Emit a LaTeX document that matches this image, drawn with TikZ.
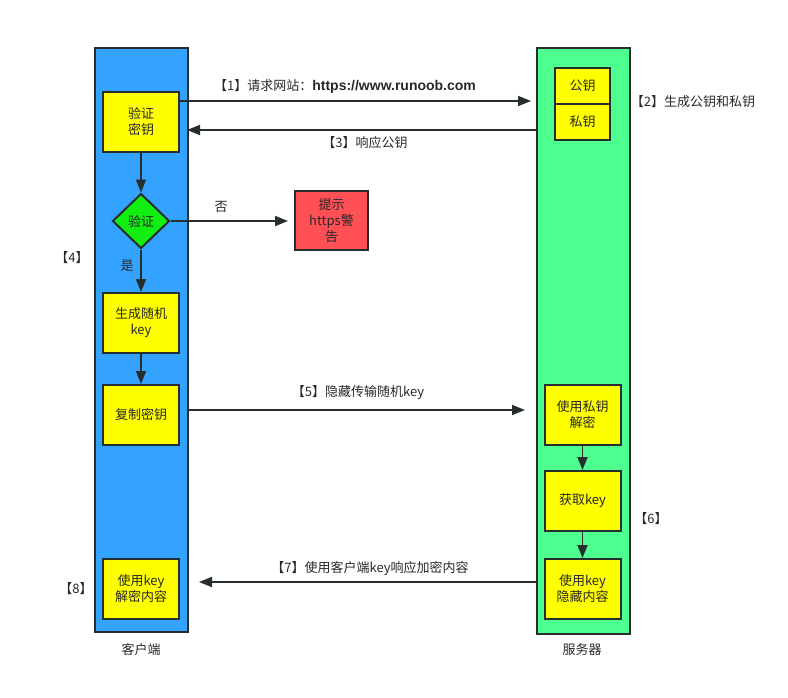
\documentclass[tikz,border=0pt]{standalone}
\usepackage{fontspec}
\setmainfont{Noto Sans CJK SC}
\usetikzlibrary{arrows.meta,shapes.geometric}
\definecolor{colblue}{RGB}{51,163,255}
\definecolor{colgreen}{RGB}{77,255,143}
\definecolor{colyellow}{RGB}{255,255,0}
\definecolor{coldia}{RGB}{17,238,17}
\definecolor{colred}{RGB}{255,80,85}
\definecolor{colline}{RGB}{38,46,46}
\definecolor{coltext}{RGB}{40,40,40}
\tikzset{
  lane/.style={draw=colline,line width=2pt,anchor=north west,inner sep=0pt},
  ybox/.style={draw=colline,line width=2pt,fill=colyellow,minimum width=76pt,minimum height=60pt,inner sep=1pt,align=center,font=\fontsize{13}{16}\selectfont,text=coltext},
  kbox/.style={draw=colline,line width=2pt,fill=colyellow,minimum width=55pt,minimum height=36pt,inner sep=1pt,font=\fontsize{13}{16}\selectfont,text=coltext},
  conn/.style={draw=colline,line width=1.8pt,-{Triangle[length=13pt,width=10pt]}},
  lbl/.style={font=\fontsize{13}{16}\selectfont,text=coltext,inner sep=1pt},
}
\begin{document}
\begin{tikzpicture}[x=1pt,y=-1pt]
\useasboundingbox (0,0) rectangle (788,697);
% lanes
\node[lane,fill=colblue,minimum width=93pt,minimum height=584pt] (client) at (94,47) {};
\node[lane,fill=colgreen,minimum width=93pt,minimum height=586pt] (server) at (536,47) {};
% client nodes
\node[ybox] (verify) at (141,122) {验证\\密钥};
\node[diamond,draw=colline,line width=2pt,fill=coldia,minimum width=57pt,minimum height=55pt,inner sep=0pt,font=\fontsize{13}{16}\selectfont,text=coltext] (dia) at (141,221) {验证};
\node[ybox] (gen) at (141,323) {生成随机\\key};
\node[ybox] (copy) at (141,415) {复制密钥};
\node[ybox] (dec) at (141,589) {使用key\\解密内容};
\node[draw=colline,line width=2pt,fill=colred,minimum width=73pt,minimum height=59pt,inner sep=1pt,align=center,font=\fontsize{13}{16}\selectfont,text=coltext] (warn) at (331.5,220.5) {提示\\https警\\告};
% server nodes
\node[kbox] (pub) at (582.5,85.5) {公钥};
\node[kbox] (priv) at (582.5,122) {私钥};
\node[ybox] (sdec) at (582.5,415) {使用私钥\\解密};
\node[ybox] (getkey) at (582.5,501) {获取key};
\node[ybox] (hide) at (582.5,589) {使用key\\隐藏内容};
% coordinates
\coordinate (a1s) at (179,101);
\coordinate (a1e) at (531,101);
\coordinate (a3s) at (536,130);
\coordinate (a3e) at (187,130);
\coordinate (a5s) at (187,410);
\coordinate (a5e) at (525,410);
\coordinate (a7s) at (536,582);
\coordinate (a7e) at (199,582);
\coordinate (noe) at (288,221);
% connectors
\draw[conn] (a1s) -- (a1e);
\draw[conn] (a3s) -- (a3e);
\draw[conn] (verify.south) -- (dia.north);
\draw[conn] (dia.east) -- (noe);
\draw[conn] (dia.south) -- (gen.north);
\draw[conn] (gen.south) -- (copy.north);
\draw[conn] (a5s) -- (a5e);
\draw[conn] (sdec.south) -- (getkey.north);
\draw[conn] (getkey.south) -- (hide.north);
\draw[conn] (a7s) -- (a7e);
% labels
\node[lbl] (l1) at (345,86) {【1】请求网站：{\fontspec{Liberation Sans}\fontsize{14}{16}\selectfont\bfseries https://www.runoob.com}};
\node[lbl] (l3) at (365,143) {【3】响应公钥};
\node[lbl] (l2) at (693,102) {【2】生成公钥和私钥};
\node[lbl] (lno) at (221,207) {否};
\node[lbl] (lyes) at (127,266) {是};
\node[lbl] (l4) at (72,258) {【4】};
\node[lbl] (l5) at (358,393) {【5】隐藏传输随机key};
\node[lbl] (l6) at (651,519) {【6】};
\node[lbl] (l7) at (370,568) {【7】使用客户端key响应加密内容};
\node[lbl] (l8) at (76,589) {【8】};
\node[lbl] (lc) at (141,650) {客户端};
\node[lbl] (ls) at (582,650) {服务器};
\end{tikzpicture}
\end{document}
